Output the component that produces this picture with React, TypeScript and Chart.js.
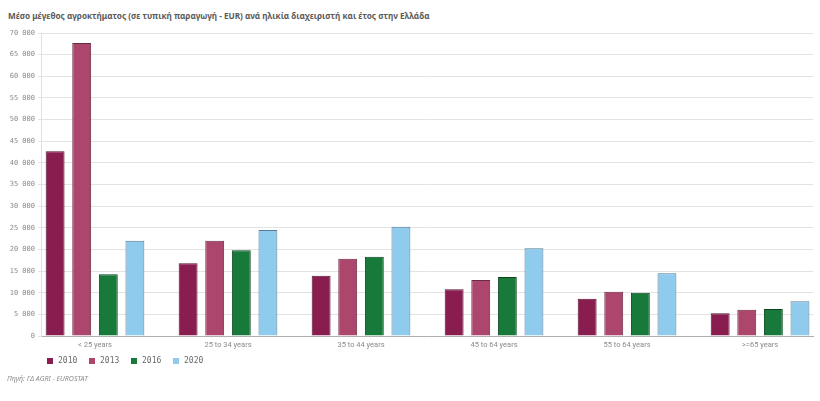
import React, { useEffect, useRef } from "react";
import { Chart, registerables } from "chart.js";

Chart.register(...registerables);

const categories = ["< 25 years", "25 to 34 years", "35 to 44 years", "45 to 64 years", "55 to 64 years", ">=65 years"];
const years = ["2010", "2013", "2016", "2020"];
const values2010 = [42700, 16800, 13900, 10800, 8600, 5250];
const values2013 = [67700, 22000, 17850, 12950, 10250, 6080];
const values2016 = [14250, 19800, 18300, 13650, 10000, 6250];
const values2020 = [22000, 24500, 25250, 20250, 14500, 8000];
const yTicks = [0, 5000, 10000, 15000, 20000, 25000, 30000, 35000, 40000, 45000, 50000, 55000, 60000, 65000, 70000];

const fills = ["#8a1d50", "#ad466d", "#17793a", "#8ecbed"];
const borders = ["#551030", "#6b2a44", "#0c4520", "#587c94"];

const title = "Μέσο μέγεθος αγροκτήματος (σε τυπική παραγωγή - EUR) ανά ηλικία διαχειριστή και έτος στην Ελλάδα";
const source = "Πηγή: ΓΔ AGRI - EUROSTAT";

const fmt = (v: number) => v.toLocaleString("en-US").replace(/,/g, " ");

export default function App() {
  const ref = useRef<HTMLCanvasElement | null>(null);
  useEffect(() => {
    if (!ref.current) return;
    const series = [values2010, values2013, values2016, values2020];
    const chart = new Chart(ref.current, {
      type: "bar",
      data: {
        datasets: series.map((vals, k) => ({
          label: years[k],
          data: vals.map((v, i) => ({ x: i, y: v })),
          backgroundColor: fills[k],
          borderColor: borders[k],
          borderWidth: 1,
          categoryPercentage: 0.8,
          barPercentage: 0.71,
        })),
      },
      options: {
        animation: false,
        responsive: false,
        maintainAspectRatio: false,
        layout: { padding: { top: 33, right: 7, left: 0, bottom: 0 } },
        plugins: { legend: { display: false }, tooltip: { enabled: false }, title: { display: false } },
        scales: {
          x: {
            type: "linear",
            offset: false,
            min: -0.406,
            max: 5.398,
            grid: { display: false, drawTicks: false, offset: false },
            border: { display: true, color: "#b0b0b0" },
            ticks: {
              includeBounds: false,
              stepSize: 1,
              padding: 5,
              color: "#8a8a8a",
              font: { family: "Roboto", size: 7.5 },
              callback: (v: any) => categories[v] ?? "",
            },
            afterBuildTicks: (scale: any) => {
              scale.ticks = categories.map((_, i) => ({ value: i }));
            },
            afterFit: (scale: any) => {
              scale.height = 65;
            },
          },
          y: {
            min: 0,
            max: 70000,
            grid: { color: "#e3e3e3", tickLength: 3 },
            border: { display: true, color: "#e0e0e0" },
            ticks: {
              padding: 3,
              color: "#8a8a8a",
              font: { family: "DejaVu Sans Mono", size: 7 },
              callback: (v: any) => fmt(Number(v)),
            },
            afterBuildTicks: (scale: any) => {
              scale.ticks = yTicks.map((v) => ({ value: v }));
            },
            afterFit: (scale: any) => {
              scale.width = 41;
            },
          },
        },
      },
    });
    return () => chart.destroy();
  }, []);

  return (
    <div style={{ position: "absolute", left: 0, top: 0, width: 820, height: 401, background: "#fff" }}>
      <div
        style={{
          position: "absolute",
          left: 8,
          top: 9,
          fontFamily: "'Noto Sans', sans-serif",
          fontWeight: 700,
          fontSize: 8.2,
          color: "#5a5a5a",
          whiteSpace: "nowrap",
          lineHeight: "14px",
        }}
      >
        {title}
      </div>
      <canvas ref={ref} width={820} height={401} style={{ position: "absolute", left: 0, top: 0 }} />
      <div style={{ position: "absolute", left: 47, top: 355, display: "flex", lineHeight: "12px" }}>
        {years.map((y, k) => (
          <div key={y} style={{ display: "flex", alignItems: "center", width: 42 }}>
            <span style={{ display: "inline-block", width: 6, height: 6, background: fills[k], marginRight: 5 }} />
            <span style={{ fontFamily: "'DejaVu Sans Mono', monospace", fontSize: 8, color: "#6a6a6a" }}>{y}</span>
          </div>
        ))}
      </div>
      <div
        style={{
          position: "absolute",
          left: 7,
          top: 373,
          fontFamily: "'Noto Sans', sans-serif",
          fontStyle: "italic",
          fontSize: 7,
          color: "#8a8a8a",
          whiteSpace: "nowrap",
          lineHeight: "12px",
        }}
      >
        {source}
      </div>
    </div>
  );
}
